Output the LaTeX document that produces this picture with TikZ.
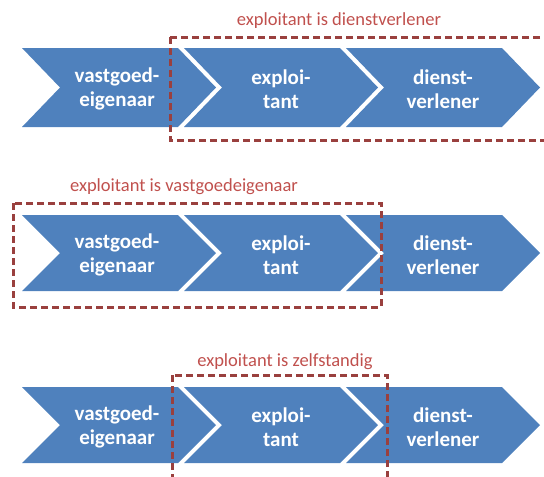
\documentclass[tikz,border=0pt]{standalone}
\usepackage{fontspec}
\setmainfont{Carlito}
\usepackage{xcolor}
\usepackage{tikz}
\definecolor{chevblue}{HTML}{4F81BD}
\definecolor{boxred}{HTML}{C0504D}

\begin{document}
\begin{tikzpicture}[x=1pt,y=-1pt,
  chev/.style={fill=chevblue},
  chevtext/.style={text=white,font=\bfseries\fontsize{21}{24}\selectfont,align=center},
  redbox/.style={draw=boxred!80!black,line width=3pt,dash pattern=on 7pt off 4pt},
  redlabel/.style={text=boxred,font=\fontsize{18.5}{21}\selectfont}]
\clip (0,0) rectangle (544,477);
%% row 1: exploitant is dienstverlener
\fill[chev] (22,48) -- (178,48) -- (216,87.5) -- (178,127) -- (22,127) -- (60,87.5) -- cycle;
\fill[chev] (184,48) -- (340,48) -- (378,87.5) -- (340,127) -- (184,127) -- (222,87.5) -- cycle;
\fill[chev] (346,48) -- (502,48) -- (540,87.5) -- (502,127) -- (346,127) -- (384,87.5) -- cycle;
\node[chevtext] (veig1) at (117,89) {vastgoed-\\eigenaar};
\node[chevtext] (expl1) at (281,89) {exploi-\\tant};
\node[chevtext] (dien1) at (443,89) {dienst-\\verlener};
\draw[redbox] (170,37) rectangle (560,140);
\node[redlabel] (lab1) at (339,21) {exploitant is dienstverlener};
%% row 2: exploitant is vastgoedeigenaar
\fill[chev] (22,215) -- (178,215) -- (216,253) -- (178,291) -- (22,291) -- (60,253) -- cycle;
\fill[chev] (184,215) -- (340,215) -- (378,253) -- (340,291) -- (184,291) -- (222,253) -- cycle;
\fill[chev] (346,215) -- (502,215) -- (540,253) -- (502,291) -- (346,291) -- (384,253) -- cycle;
\node[chevtext] (veig2) at (117,255) {vastgoed-\\eigenaar};
\node[chevtext] (expl2) at (281,255) {exploi-\\tant};
\node[chevtext] (dien2) at (443,255) {dienst-\\verlener};
\draw[redbox] (13,203) rectangle (381,307);
\node[redlabel] (lab2) at (184,187) {exploitant is vastgoedeigenaar};
%% row 3: exploitant is zelfstandig
\fill[chev] (22,387) -- (178,387) -- (216,425) -- (178,463) -- (22,463) -- (60,425) -- cycle;
\fill[chev] (184,387) -- (340,387) -- (378,425) -- (340,463) -- (184,463) -- (222,425) -- cycle;
\fill[chev] (346,387) -- (502,387) -- (540,425) -- (502,463) -- (346,463) -- (384,425) -- cycle;
\node[chevtext] (veig3) at (117,427) {vastgoed-\\eigenaar};
\node[chevtext] (expl3) at (281,427) {exploi-\\tant};
\node[chevtext] (dien3) at (443,427) {dienst-\\verlener};
\draw[redbox] (172,375) rectangle (387,495);
\node[redlabel] (lab3) at (285,362) {exploitant is zelfstandig};
\end{tikzpicture}
\end{document}
